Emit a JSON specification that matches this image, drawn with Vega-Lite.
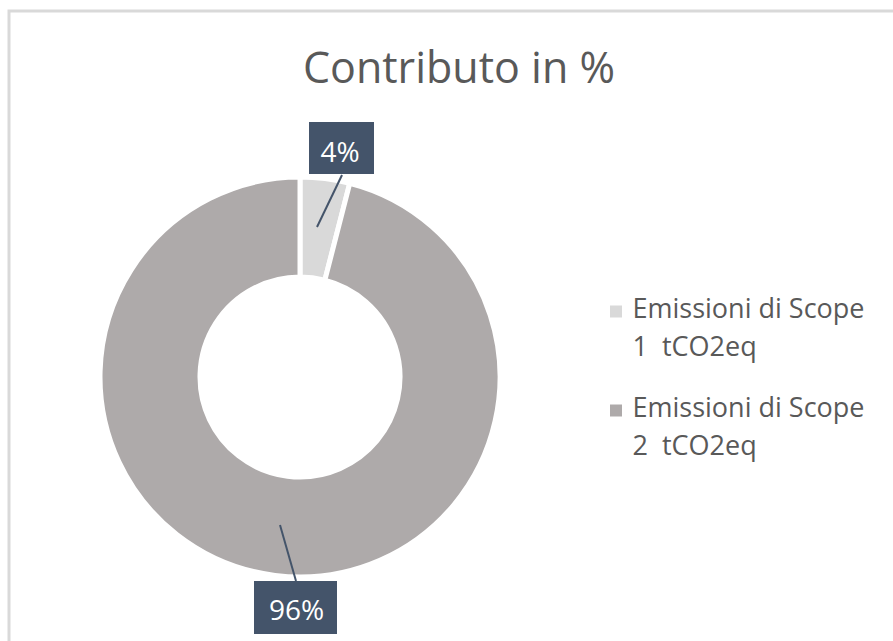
{
  "$schema": "https://vega.github.io/schema/vega-lite/v6.json",
  "width": 890,
  "height": 636,
  "autosize": "none",
  "padding": {"left": 9, "top": 11, "right": -6, "bottom": -6},
  "background": "#ffffff",
  "title": {
    "text": "Contributo in %",
    "anchor": "middle",
    "frame": "group",
    "baseline": "alphabetic",
    "offset": -115,
    "dx": 5,
    "font": "Open Sans",
    "fontSize": 43,
    "fontWeight": "normal",
    "color": "#595959"
  },
  "config": {
    "view": {"stroke": "#d9d9d9", "strokeWidth": 3},
    "axis": {"disable": true},
    "style": {"guide-label": {"lineHeight": 38, "dy": -15}}
  },
  "data": {
    "values": [
      {"categoria": "Emissioni di Scope 1  tCO2eq", "quota": 0.04},
      {"categoria": "Emissioni di Scope 2  tCO2eq", "quota": 0.96}
    ]
  },
  "layer": [
    {
      "mark": {"type": "arc", "outerRadius": 200, "innerRadius": 100, "stroke": "#ffffff", "strokeWidth": 5},
      "encoding": {
        "x": {"datum": 0, "type": "quantitative", "scale": {"domain": [-1.4772, 3.0406], "nice": false, "zero": false}, "axis": null},
        "y": {"datum": 0, "type": "quantitative", "scale": {"domain": [-1.3706, 1.8579], "nice": false, "zero": false}, "axis": null},
        "theta": {"field": "quota", "type": "quantitative", "stack": true},
        "order": {"field": "categoria"},
        "color": {
          "field": "categoria",
          "type": "nominal",
          "scale": {"range": ["#d9d9d9", "#aeaaaa"]},
          "legend": {
            "title": null,
            "orient": "none",
            "legendX": 593.5,
            "legendY": 287,
            "padding": 0,
            "symbolType": "square",
            "symbolSize": 144,
            "symbolStrokeWidth": 0,
            "labelFont": "Open Sans",
            "labelFontSize": 27,
            "labelColor": "#595959",
            "labelOffset": 3,
            "labelBaseline": "top",
            "labelLimit": 400,
            "rowPadding": 33,
            "labelExpr": "[slice(datum.label, 0, 18), replace(slice(datum.label, 19), '  ', ' \u00a0')]"
          }
        }
      }
    },
    {
      "transform": [{"filter": "datum.quota < 0.5"}],
      "mark": {"type": "rule", "stroke": "#44546a", "strokeWidth": 2},
      "encoding": {
        "x": {"datum": 0.0863, "type": "quantitative"},
        "y": {"datum": 0.7614, "type": "quantitative"},
        "x2": {"datum": 0.2132},
        "y2": {"datum": 1.0254}
      }
    },
    {
      "transform": [{"filter": "datum.quota >= 0.5"}],
      "mark": {"type": "rule", "stroke": "#44546a", "strokeWidth": 2},
      "encoding": {
        "x": {"datum": -0.1015, "type": "quantitative"},
        "y": {"datum": -0.7513, "type": "quantitative"},
        "x2": {"datum": -0.0203},
        "y2": {"datum": -1.0355}
      }
    },
    {
      "transform": [{"filter": "datum.quota < 0.5"}],
      "mark": {"type": "rect", "fill": "#44546a"},
      "encoding": {
        "x": {"datum": 0.0457, "type": "quantitative"},
        "x2": {"datum": 0.3756},
        "y": {"datum": 1.2944, "type": "quantitative"},
        "y2": {"datum": 1.0305}
      }
    },
    {
      "transform": [{"filter": "datum.quota >= 0.5"}],
      "mark": {"type": "rect", "fill": "#44546a"},
      "encoding": {
        "x": {"datum": -0.2335, "type": "quantitative"},
        "x2": {"datum": 0.1878},
        "y": {"datum": -1.0355, "type": "quantitative"},
        "y2": {"datum": -1.3046}
      }
    },
    {
      "transform": [{"filter": "datum.quota < 0.5"}],
      "mark": {"type": "text", "font": "Open Sans", "fontSize": 28, "fill": "#ffffff", "align": "center", "baseline": "alphabetic"},
      "encoding": {
        "x": {"datum": 0.203, "type": "quantitative"},
        "y": {"datum": 1.0914, "type": "quantitative"},
        "text": {"field": "quota", "type": "quantitative", "format": ".0%"}
      }
    },
    {
      "transform": [{"filter": "datum.quota >= 0.5"}],
      "mark": {"type": "text", "font": "Open Sans", "fontSize": 28, "fill": "#ffffff", "align": "center", "baseline": "alphabetic"},
      "encoding": {
        "x": {"datum": -0.0178, "type": "quantitative"},
        "y": {"datum": -1.2335, "type": "quantitative"},
        "text": {"field": "quota", "type": "quantitative", "format": ".0%"}
      }
    }
  ]
}
